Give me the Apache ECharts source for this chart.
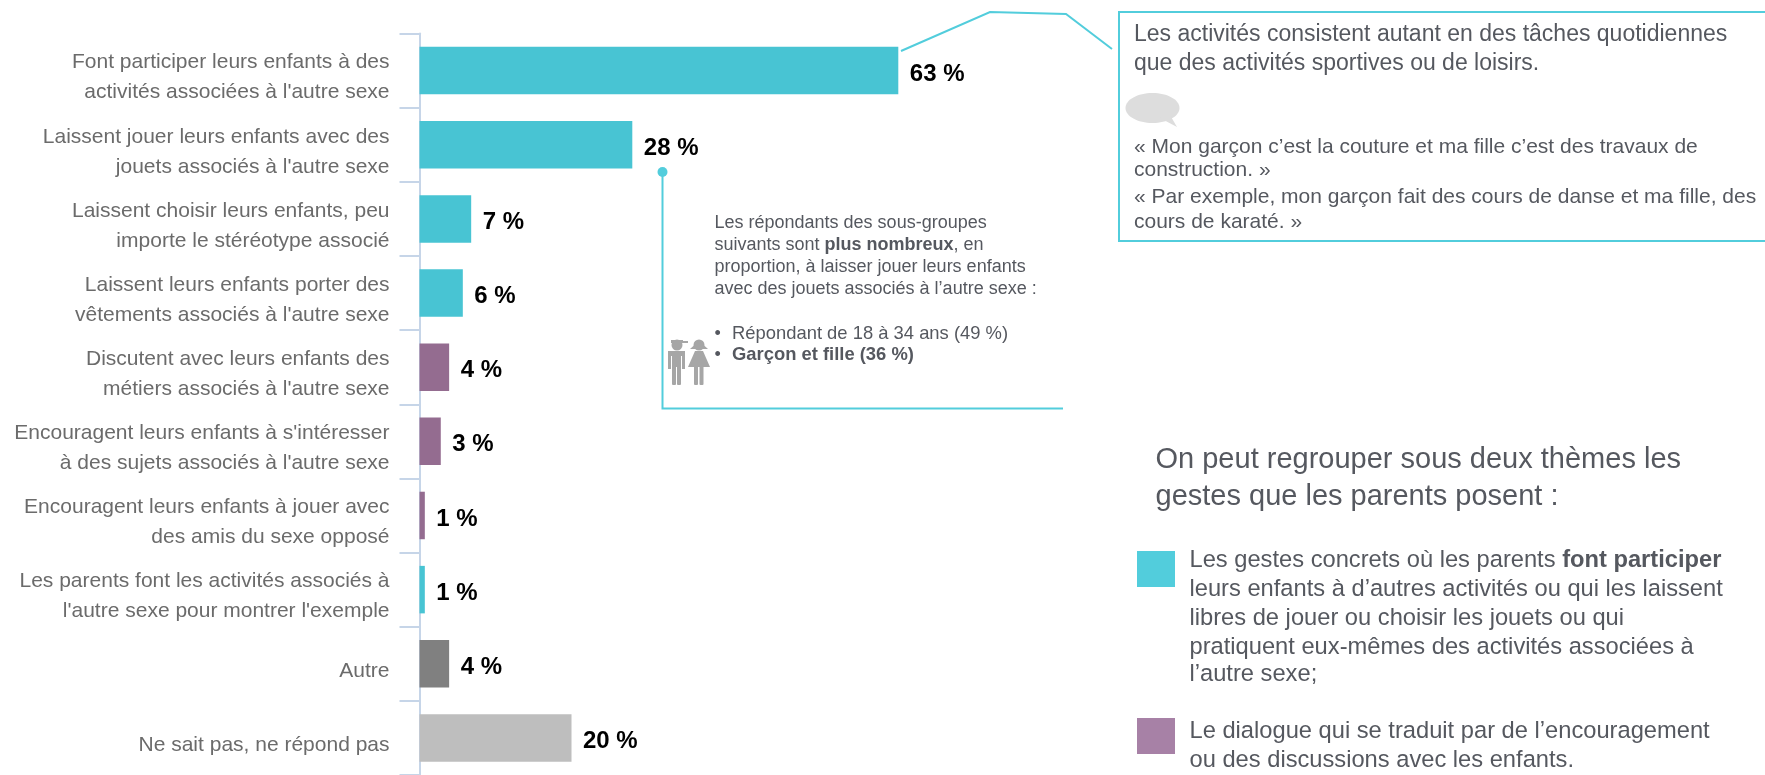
<!DOCTYPE html>
<html lang="fr">
<head>
<meta charset="utf-8">
<style>html,body{margin:0;padding:0;background:#fff}#chart{width:1765px;height:775px}</style>
<script src="https://cdn.jsdelivr.net/npm/echarts@6/dist/echarts.min.js"></script>
</head>
<body>
<div id="chart"></div>
<script>
const categories = [
  "Font participer leurs enfants à des\nactivités associées à l'autre sexe",
  "Laissent jouer leurs enfants avec des\njouets associés à l'autre sexe",
  "Laissent choisir leurs enfants, peu\nimporte le stéréotype associé",
  "Laissent leurs enfants porter des\nvêtements associés à l'autre sexe",
  "Discutent avec leurs enfants des\nmétiers associés à l'autre sexe",
  "Encouragent leurs enfants à s'intéresser\nà des sujets associés à l'autre sexe",
  "Encouragent leurs enfants à jouer avec\ndes amis du sexe opposé",
  "Les parents font les activités associés à\nl'autre sexe pour montrer l'exemple",
  "Autre",
  "Ne sait pas, ne répond pas"
];
const values = [63, 28, 6.8, 5.7, 3.9, 2.8, 0.7, 0.7, 3.9, 20];
const barColors = ["#48C4D3","#48C4D3","#48C4D3","#48C4D3","#946C90","#946C90","#946C90","#48C4D3","#808080","#BEBEBE"];

const noteColor = "#55585F";
const lineColor = "#52CDDC";
const font = "'Liberation Sans', Arial, sans-serif";

const boxIntro = ["Les activités consistent autant en des tâches quotidiennes","que des activités sportives ou de loisirs."];
const boxQuotes = ["« Mon garçon c’est la couture et ma fille c’est des travaux de","construction. »","« Par exemple, mon garçon fait des cours de danse et ma fille, des","cours de karaté. »"];
const midNote = ["Les répondants des sous-groupes","suivants sont {b|plus nombreux}, en","proportion, à laisser jouer leurs enfants","avec des jouets associés à l’autre sexe :"];
const midBullets = ["Répondant de 18 à 34 ans (49 %)","{b|Garçon et fille (36 %)}"];
const themeHead = ["On peut regrouper sous deux thèmes les","gestes que les parents posent :"];
const themeOne = ["Les gestes concrets où les parents {b|font participer}","leurs enfants à d’autres activités ou qui les laissent","libres de jouer ou choisir les jouets ou qui","pratiquent eux-mêmes des activités associées à","l’autre sexe;"];
const themeTwo = ["Le dialogue qui se traduit par de l’encouragement","ou des discussions avec les enfants."];

function txt(x, y, s, size) {
  const bold = s.indexOf("{b|") >= 0;
  return { type:"text", x, y, silent:true, style:{
    text:s, fill:noteColor, fontSize:size, fontFamily:font, verticalAlign:"middle", align:"left",
    rich: bold ? { b:{ fontWeight:"bold", fontSize:size, fontFamily:font, fill:noteColor } } : undefined
  }};
}
const lineStyle = { stroke:lineColor, lineWidth:2, fill:null };
const g = [];
// callout from the top bar
g.push({ type:"polyline", shape:{points:[[901,51],[990,12],[1066,14],[1112,49]]}, style:lineStyle });
g.push({ type:"rect", shape:{x:1119,y:12,width:660,height:229}, style:lineStyle });
[35,64].forEach((y,i)=>g.push(txt(1134,y,boxIntro[i],23)));
[147,170,197,222].forEach((y,i)=>g.push(txt(1134,y,boxQuotes[i],21)));
// speech bubble
g.push({ type:"ellipse", shape:{cx:1152.5,cy:108,rx:27,ry:15}, style:{fill:"#DDDDDD"} });
g.push({ type:"polygon", shape:{points:[[1160,118],[1177,127],[1170,115]]}, style:{fill:"#DDDDDD"} });
// callout from second bar
g.push({ type:"circle", shape:{cx:662.5,cy:172,r:5}, style:{fill:lineColor} });
g.push({ type:"polyline", shape:{points:[[662.5,172],[662.5,408.5],[1063,408.5]]}, style:lineStyle });
[223,245,267,289].forEach((y,i)=>g.push(txt(714.5,y,midNote[i],18)));
[334,355].forEach((y,i)=>{ g.push(txt(714.5,y,"•",18)); g.push(txt(732,y,midBullets[i],18.4)); });
// boy and girl pictogram
const ic = {fill:"#A6A6A6"};
g.push({ type:"circle", shape:{cx:677,cy:345,r:5.5}, style:ic });
g.push({ type:"rect", shape:{x:671,y:340,width:12,height:3}, style:ic });
g.push({ type:"rect", shape:{x:683,y:341,width:5,height:2}, style:ic });
g.push({ type:"rect", shape:{x:668,y:351,width:17,height:5,r:2}, style:ic });
g.push({ type:"rect", shape:{x:668,y:351,width:3,height:18}, style:ic });
g.push({ type:"rect", shape:{x:682,y:351,width:3,height:18}, style:ic });
g.push({ type:"rect", shape:{x:672,y:351,width:9,height:16}, style:ic });
g.push({ type:"rect", shape:{x:672,y:366,width:4,height:19,r:1}, style:ic });
g.push({ type:"rect", shape:{x:677,y:366,width:4,height:19,r:1}, style:ic });
g.push({ type:"circle", shape:{cx:699,cy:345,r:5.5}, style:ic });
g.push({ type:"polygon", shape:{points:[[690,349],[699,341],[708,349]]}, style:ic });
g.push({ type:"polygon", shape:{points:[[695,351],[703,351],[710,367],[688,367]]}, style:ic });
g.push({ type:"rect", shape:{x:694,y:366,width:4,height:19,r:1}, style:ic });
g.push({ type:"rect", shape:{x:699.5,y:366,width:4,height:19,r:1}, style:ic });
// themes
[460,497].forEach((y,i)=>g.push(txt(1155.5,y,themeHead[i],29)));
g.push({ type:"rect", shape:{x:1137,y:551,width:38,height:36}, style:{fill:"#52CDDC"} });
g.push({ type:"rect", shape:{x:1137,y:718,width:38,height:36}, style:{fill:"#A781A6"} });
[560,589,618,647,674].forEach((y,i)=>g.push(txt(1189.5,y,themeOne[i],23.7)));
[731,760].forEach((y,i)=>g.push(txt(1189.5,y,themeTwo[i],23.7)));

const chart = echarts.init(document.getElementById("chart"), null, {renderer:"canvas"});
chart.setOption({
  animation:false,
  backgroundColor:"#fff",
  grid:{ left:419.5, top:33.5, width:760, height:744, containLabel:false },
  xAxis:{ type:"value", min:0, max:100, show:false },
  yAxis:{ type:"category", inverse:true, data:categories,
    axisLine:{ show:true, lineStyle:{ color:"#C6D5E8", width:2 } },
    axisTick:{ show:true, length:20, lineStyle:{ color:"#C6D5E8", width:2 } },
    axisLabel:{ margin:30, align:"right",
      formatter:v=>"{s| }\n"+v.split("\n").map(l=>"{a|"+l+"}").join("\n"),
      rich:{ s:{ lineHeight:14, fontSize:1 }, a:{ color:"#6B6B6B", fontSize:21, lineHeight:30, fontFamily:font } }
    }
  },
  series:[{ type:"bar", barWidth:47.5,
    data:values.map((v,i)=>({ value:v, itemStyle:{ color:barColors[i] } })),
    label:{ show:true, position:"right", distance:11.5, offset:[0,3.5], color:"#000", fontWeight:"bold", fontSize:24, fontFamily:font,
      formatter:p=>Math.round(p.value)+" %" }
  }],
  graphic:{ elements:g }
});
</script>
</body>
</html>
